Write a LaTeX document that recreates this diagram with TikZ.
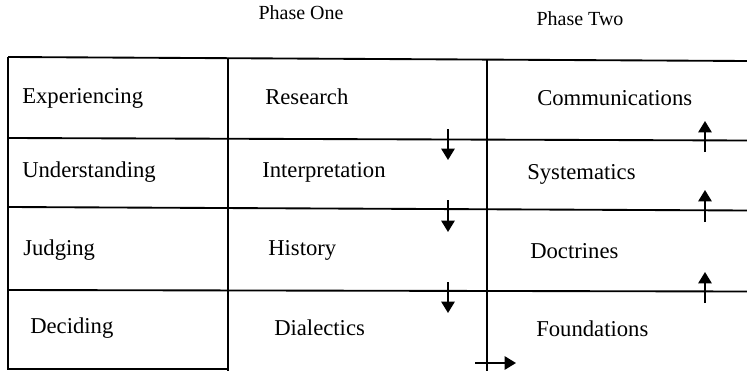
\documentclass[tikz,border=0pt]{standalone}
\usepackage{fontspec}
\setmainfont{Liberation Serif}
\usetikzlibrary{arrows.meta}
\begin{document}
\begin{tikzpicture}[x=0.75pt,y=-0.75pt,
  grid/.style={line width=1.4pt,black},
  flow/.style={line width=1.3pt,-{Triangle[width=10pt,length=8.5pt]}},
  cell/.style={anchor=west,inner sep=0pt,font=\fontsize{17}{19}\selectfont},
  phase/.style={inner sep=0pt,font=\fontsize{15}{17}\selectfont}]
\useasboundingbox (0,0) rectangle (747,371);
% headings
\node[phase] (p1) at (301,13) {Phase One};
\node[phase] (p2) at (580,19) {Phase Two};
% grid
\draw[grid] (8,57) -- (747,61);
\draw[grid] (8,57) -- (8,369) -- (228,369);
\draw[grid] (228,57.5) -- (228,371);
\draw[grid] (487,59.5) -- (487,371);
\draw[grid] (8,138) -- (747,140.5);
\draw[grid] (8,207) -- (747,210.5);
\draw[grid] (8,290) -- (747,291.5);
% column 1
\node[cell] (exp) at (22,98) {Experiencing};
\node[cell] (und) at (22,172) {Understanding};
\node[cell] (jud) at (23,250) {Judging};
\node[cell] (dec) at (30,328) {Deciding};
% column 2
\node[cell] (res) at (265,97) {Research};
\node[cell] (int) at (262,172) {Interpretation};
\node[cell] (his) at (268,250) {History};
\node[cell] (dia) at (274,328) {Dialectics};
% column 3
\node[cell] (com) at (537,98) {Communications};
\node[cell] (sys) at (527,174) {Systematics};
\node[cell] (doc) at (530,251) {Doctrines};
\node[cell] (fou) at (536,329) {Foundations};
% arrow end points
\coordinate (d1a) at (448,129); \coordinate (d1b) at (448,160);
\coordinate (d2a) at (448,200); \coordinate (d2b) at (448,232);
\coordinate (d3a) at (448,282); \coordinate (d3b) at (448,313);
\coordinate (u1a) at (705,152); \coordinate (u1b) at (705,121);
\coordinate (u2a) at (705,222); \coordinate (u2b) at (705,190);
\coordinate (u3a) at (705,303); \coordinate (u3b) at (705,272);
\coordinate (ra) at (475,363); \coordinate (rb) at (516,363);
\draw[flow] (d1a) -- (d1b);
\draw[flow] (d2a) -- (d2b);
\draw[flow] (d3a) -- (d3b);
\draw[flow] (u1a) -- (u1b);
\draw[flow] (u2a) -- (u2b);
\draw[flow] (u3a) -- (u3b);
\draw[flow] (ra) -- (rb);
\end{tikzpicture}
\end{document}
